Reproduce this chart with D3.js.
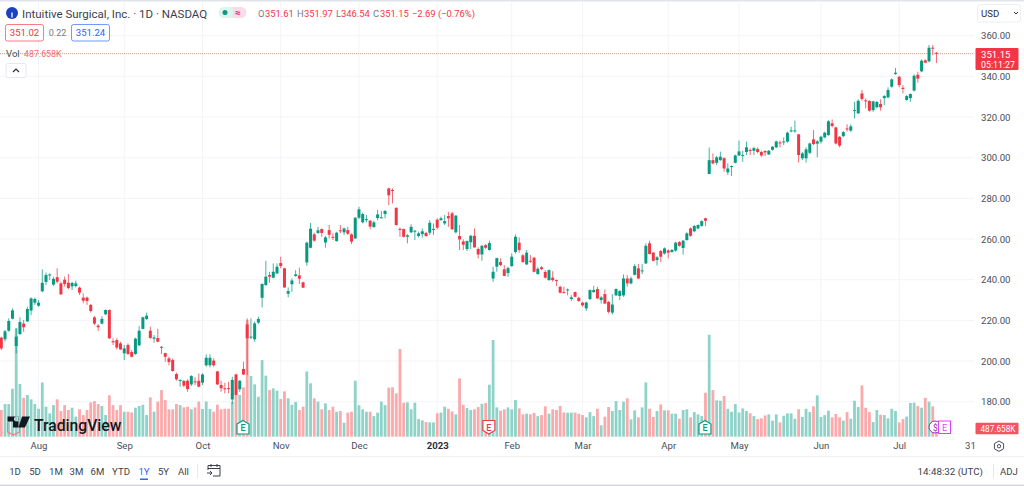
<!DOCTYPE html>
<html>
<head>
<meta charset="utf-8">
<title>ISRG</title>
<script src="https://cdn.jsdelivr.net/npm/d3@7"></script>
<style>
	html, body { margin: 0; padding: 0; background: #fff; overflow: hidden; }
	svg { display: block; font-family: Roboto, sans-serif; }
	.axis text { font-size: 9.6px; fill: #4a4e5a; font-family: Roboto, sans-serif; }
</style>
</head>
<body>
<svg id="chart" width="1024" height="486"></svg>
<script>
const opens = [
	211.5,210.7,214.9,220.8,207.4,213.3,218.4,219.5,224.8,228.7,
	227.2,234.3,238.9,242.2,237.6,241.2,238.2,240,238.5,236.7,
	236.9,236.1,231.2,231.2,227.6,221.5,217.4,218.4,223,225.1,
	209.8,210.3,208.7,203.8,207.9,204.4,203.5,207.7,215.8,220.7,
	214.9,211,211.3,207,203.9,201.3,200.5,193.6,190.3,190.2,
	190.3,188.5,190,190.3,189.4,197.9,197.9,200.2,194.9,188.2,
	186.6,186.7,181.1,193.4,186.1,196.1,218,211.5,210.7,218.9,
	231.1,237.4,242.3,241,243.1,248.2,245.6,233.1,237.8,241.8,
	242.1,238.7,248.5,255.7,262.3,263,264.9,258.3,264.4,261.1,
	259,264.3,263.3,264.4,262.3,260.3,270.5,268.2,269.3,269,
	265.9,270.3,270.5,272.3,284.9,284.1,275.4,265,264.9,261.1,
	263.3,263.9,261.5,262.4,263,263.1,264.7,269.5,269.3,267.7,
	271.3,272.6,263.3,261.5,258.8,255.1,258.4,261.6,255.1,252.4,
	257,254.6,240.6,246.4,248.7,245.1,243.3,246.7,253.6,258.2,
	252,247.5,249.3,250.8,242.8,246.1,243.8,239.8,241,239.8,
	236.5,233.9,234.9,230.5,233.9,231.1,228.7,225.9,230.5,233.9,
	235.4,230,232.9,229,223.8,232.3,232,232.3,240.6,238.2,
	242.4,245.6,244.1,248,257.9,253.3,249.7,254.1,252.9,254.4,
	253.6,254.3,258.5,255.6,259.5,265.2,263.8,265.2,266.5,270.2,
	292,298.8,297.5,298.8,299.8,292.8,295.6,297.5,301.1,301,
	302.8,303.8,303.4,304.3,302.8,303.3,301.6,303.9,305.1,307.5,
	307.5,307.9,312.9,313.1,311.5,299.7,299.7,302.4,309,306.9,
	307.9,310,311.1,316.9,314.9,310.3,310.6,314.4,313.3,323.1,
	321.8,331.6,328.2,327.9,323.4,324.8,326.4,329.3,329.7,334.9,
	341.2,339.8,334.4,328.4,329.3,333,340.8,342.5,347.9,347.4,
	354.1,351.61
];
const highs = [
	212,215.3,221,225.9,216.1,221.5,220.2,226.7,231.3,231.2,
	230,245.1,243.5,243.1,241.5,245.6,239,241.5,242.8,239,
	239.5,236.6,233.3,231.7,228.1,222.1,218.2,222.1,225.4,225.4,
	211.2,211.2,209.5,207.9,208.7,205.4,211.5,217.2,221.8,223.8,
	216.9,212.8,215.9,207.4,204.1,202.1,201.3,194.3,191,190.7,
	191,193.1,192,193.9,193.9,203.3,203.3,201.3,195.1,190.3,
	189.3,189.8,192.3,193.8,190.7,199.7,221,221,219.4,221.8,
	238.2,249.3,243.9,248,248,251.3,245.9,236.2,240.6,244.7,
	245.9,239,258.7,268,263.1,266,265.2,261.5,266.9,262.8,
	263.6,266.9,265.6,266,262.8,270.6,275.9,273,271.8,269.3,
	269,274.3,273.8,274.3,285.2,284.9,275.4,265.7,265.2,262.4,
	267.2,264.4,263.6,265.2,263.6,269.3,267.7,270.2,271,271.8,
	273.4,273.4,271.8,266.9,259.8,259.3,262,265.2,255.9,257,
	257.5,259.2,246.4,250.8,250.5,247.2,246.4,252.9,262.3,260.8,
	252.6,254.6,252.1,251.3,246.1,246.7,244.7,245.1,244.2,240.1,
	237,236.5,235.7,232.4,234.2,231.6,229.2,229.2,235.2,237,
	236.5,232,235.2,229.5,232.9,235.7,234.9,242.6,242.3,241.5,
	247.7,247.7,247.7,257.9,259.2,253.6,251.6,254.6,255.9,254.9,
	255.1,258.7,259,259.5,263.3,265.7,266.9,267.2,269.2,270.5,
	305,302.1,300.8,303,300.2,297.2,296.2,301.5,308.4,303.4,
	307.9,304.6,305.4,305.1,303.4,303.6,303.8,305.7,308.4,308.4,
	310,312.8,315.2,318.2,311.6,302.9,305.1,307.4,313.6,308.7,
	310.8,312.8,318.5,318.8,315.2,310.6,313.1,316.4,316.4,327.5,
	328.7,333.3,329.2,328.2,328,327.9,328.7,330.8,334.6,339,
	344.1,340.3,335.7,330.8,331.6,341,342.3,348.4,348.4,355.4,
	355.4,351.97
];
const lows = [
	205.4,209.5,214.4,220.5,203.8,212.8,214.4,219.2,222.6,227.6,
	226.7,233.8,237.4,239.9,236.9,238.2,232.5,236.6,235.3,234.9,
	236.2,232.5,228.4,227.6,223.9,217.7,214.8,218,222.6,210.8,
	207.9,205.7,205.4,200.5,203,201.8,203,207.4,215.6,220.2,
	211,209,209.2,203.5,199.7,197.9,194.8,190.3,187.4,187.1,
	184.9,187.7,188.2,187.1,188.2,197.2,196.9,197.2,188.2,184.9,
	184.1,184.1,178.9,183.2,184.9,193.1,193.1,210.8,209.5,218.2,
	226.4,236.9,238.5,240.6,242.8,245.6,236,231.3,234.1,241.5,
	237.9,235.9,246.9,255.4,258.7,262.5,261.1,255.7,260.3,259.5,
	258.7,262.8,262,262,257.5,260,269.8,267.7,268.2,264.8,
	265.6,269.3,270.2,270.2,276.7,277.5,266.6,261.1,260.8,257.9,
	262.8,259.5,260.7,260.7,261.1,262,262,264.8,269,266.9,
	266,264.4,262.8,254.6,254.6,254.1,255.1,255.7,250.5,249.3,
	255.1,254.3,239,243.9,246.7,241.8,241.5,246.4,252.9,253.3,
	248.3,247.2,248.3,243.6,242.4,244.7,240.6,239.5,239,236.9,
	233.3,233.3,232.3,229.5,231.3,229.2,226.7,224.7,230,233.6,
	230.5,228.3,228,223.4,222.9,232,230,231.6,236.5,237.7,
	242.1,240.3,242.8,247.7,252.4,249,247,248.7,252.4,250.5,
	253.3,253.8,256.2,252.3,259.2,261.1,263.3,264.8,266,266.4,
	291.8,296.7,296.4,298.5,293.1,291.5,291,297.2,300.8,298,
	301.3,301.3,301.3,302.1,300.5,300.8,301.3,303.4,304.7,305.1,
	306.2,307.4,312.5,312.3,297.7,298.8,297.5,301.8,306.2,300.2,
	307,309.5,310.8,314.9,306.5,305.1,310,312.8,312.8,319.3,
	321.5,328,324.3,322.6,322.6,324.3,323.1,325.9,329.2,334.4,
	340.7,334.6,331.6,328,327.5,332.6,336.9,342,346.4,346.9,
	350.5,346.54
];
const closes = [
	206.2,214.6,219.7,224.9,212,219.2,216.6,225.6,230.8,230.5,
	228.7,238.5,242.3,242.6,240.4,239,232.8,237.9,235.9,238.4,
	238.2,233.6,229.7,229.5,224.6,218.4,216.6,220.7,225.1,211.2,
	209.2,206.6,205.7,206.2,203.5,202.1,211,214.9,221.5,222.3,
	211.3,211.6,209.5,206.6,202.1,199.5,195.1,191,190.7,187.9,
	186.2,192.6,189.5,187.4,193.4,201.6,201.6,197.9,188.5,186.6,
	186.2,186.4,190.7,183.3,190.3,193.4,211.2,212,218.5,220.7,
	237.9,241.5,241.5,243.9,246.4,246.7,236.2,234.4,239.6,242.6,
	240.5,236.1,258.2,265.1,259.2,264.3,263,260.8,262.1,260.6,
	263.1,263.9,265.2,262.6,258.7,270.5,274.6,272.3,269.8,266.1,
	268.2,272.1,270.7,273.8,281.5,283.8,266.9,264.7,261.1,261.8,
	266,264.1,262.8,263.8,261.5,268,265,265.6,270.2,268.8,
	270.2,264.8,271.5,259.8,257.2,259,261.6,255.9,252.4,256.7,
	255.7,258,243.9,250.6,247.2,241.9,245.7,251.3,261.1,254.6,
	248.7,253.3,248.8,243.9,245.4,245.2,241,244.7,239.8,239.5,
	233.6,233.6,235.2,231.3,231.6,229.5,227.4,228.8,234.9,234.9,
	230.8,231.3,228.3,224.2,227.8,235.4,234.4,240.6,238.2,240.6,
	246.7,240.6,244.6,256.7,252.6,249.3,251,251.3,255.4,253.3,
	254.6,258.2,256.7,259.2,262.8,261.6,266.4,266.9,268.8,269,
	298.8,297.2,300.2,300.5,294.7,294.7,295.9,301.1,303.1,301.3,
	305.1,303.4,304.7,302.8,301.1,302.6,303.4,305.4,308,307.2,
	308,312.3,313.4,313.4,301.3,302.1,304.1,307,306.7,308,
	310.3,312.3,317.9,315.6,307,305.9,312.6,313.9,315.4,323.4,
	328,328.9,327.9,323.1,327.7,327.4,324.8,330.3,333.3,338.5,
	341.8,335.7,333.8,330.3,331.3,340.3,338.9,347.7,346.7,354.1,
	353.84,351.15
];
// volumes in thousands of shares
const volumes = [
	1530,1870,1870,2750,6210,3020,2230,2390,2140,1870,
	1600,3110,1720,1340,1810,2140,1470,1810,1530,1660,
	1150,1570,1240,1530,1970,2040,1870,1760,1240,2370,
	1810,1530,1810,1430,1430,1390,1660,1760,1830,1240,
	2250,1430,2010,2670,2100,1570,1570,1870,1810,1680,
	1720,1570,1680,2010,1590,2020,1590,1430,1830,1570,
	1600,1600,1990,2390,2390,2830,6690,3480,3000,2290,
	4390,3500,2670,2770,2640,2160,2600,2200,1830,1990,
	1530,1720,3740,3060,2200,2010,1570,1910,1530,1720,
	1430,1470,800,1380,1430,3210,1800,1570,1430,1430,
	1180,1380,2010,1810,2810,2830,2480,5020,1950,1970,
	1570,1950,1010,940,840,820,820,1340,1380,1720,
	1600,1450,1280,3340,1830,1640,1530,1570,1700,1890,
	1930,2980,5540,1680,1490,1570,1680,1570,2100,1620,
	1280,1320,1280,1360,1180,1240,1740,1320,1570,1530,
	1760,1390,1380,1380,1380,1320,1240,1110,1410,1180,
	1600,650,1150,1700,1470,2040,1530,2010,2200,990,
	1510,1110,1680,3110,1600,1130,1470,1850,1510,1510,
	1320,1320,1030,1530,1570,1110,1410,1280,1180,2520,
	5840,2670,2080,2060,2330,1600,1430,1870,1390,1620,
	1470,1340,1180,1010,1050,1220,1280,920,1280,820,
	1200,1340,1340,1030,1570,1130,1600,1410,1740,2370,
	1130,1240,1490,1110,1300,1110,920,1410,1030,2060,
	1700,2940,1660,1410,840,1530,1260,1240,1050,1600,
	1470,820,1010,1150,1930,1950,1760,1660,2230,2010,
	1740,487.658
];

const priceTicks = [180, 200, 220, 240, 260, 280, 300, 320, 340, 360];
const timeTickBars = [10, 33, 54, 75, 96, 117, 137, 156, 179, 198, 220, 241, 260];
const timeTickLabels = ["Aug", "Sep", "Oct", "Nov", "Dec", "2023", "Feb", "Mar", "Apr", "May", "Jun", "Jul", "31"];
const rangeButtons = ["1D", "5D", "1M", "3M", "6M", "YTD", "1Y", "5Y", "All"];
const rangeCentres = [15, 35, 56, 76.5, 97.5, 121, 144, 163.5, 183.5];
const earningsBars = [65, 131, 189];

const green = "#089981", red = "#f23645", grid = "#f3f4f8", grey = "#787b86", ink = "#4a4e5a";
const chartRight = 974;

const svg = d3.select("#chart");
const x = d3.scaleLinear().domain([0, 260]).range([1.3, 970]);
const y = d3.scaleLinear().domain([180, 360]).range([401.7, 35.7]);
const yVol = d3.scaleLinear().domain([0, 6000]).range([436.7, 332]);

const isUp = i => closes[i] >= opens[i];
const bars = d3.range(closes.length);

// grid
svg.append("g").selectAll("line").data(priceTicks).join("line")
	.attr("x1", 0).attr("x2", chartRight)
	.attr("y1", d => y(d)).attr("y2", d => y(d))
	.attr("stroke", grid);
svg.append("g").selectAll("line").data(timeTickBars.slice(0, -1)).join("line")
	.attr("x1", d => x(d)).attr("x2", d => x(d))
	.attr("y1", 2).attr("y2", 441)
	.attr("stroke", grid);

// frame lines
svg.append("rect").attr("width", 1024).attr("height", 1.5).attr("fill", "#e0e3eb");
svg.append("rect").attr("y", 456).attr("width", 1024).attr("height", 1).attr("fill", "#eef0f4");
svg.append("rect").attr("y", 484.5).attr("width", 1024).attr("height", 1.5).attr("fill", "#d6d8e0");

// volume
svg.append("g").selectAll("rect").data(bars).join("rect")
	.attr("x", i => x(i) - 1.4)
	.attr("width", 2.8)
	.attr("y", i => yVol(volumes[i]))
	.attr("height", i => yVol(0) - yVol(volumes[i]))
	.attr("fill", i => isUp(i) ? "#8fd3c8" : "#fba9ab");

// last price line
svg.append("line")
	.attr("x1", 0).attr("x2", chartRight)
	.attr("y1", y(351.15)).attr("y2", y(351.15))
	.attr("stroke", red).attr("stroke-opacity", 0.55)
	.attr("stroke-dasharray", "1 1");

// candles
const candles = svg.append("g");
candles.selectAll("line").data(bars).join("line")
	.attr("x1", i => x(i)).attr("x2", i => x(i))
	.attr("y1", i => y(highs[i])).attr("y2", i => y(lows[i]))
	.attr("stroke", i => isUp(i) ? green : red)
	.attr("stroke-opacity", 0.75);
candles.selectAll("rect").data(bars).join("rect")
	.attr("x", i => x(i) - 1.5)
	.attr("width", 3)
	.attr("y", i => y(Math.max(opens[i], closes[i])))
	.attr("height", i => Math.max(1, Math.abs(y(opens[i]) - y(closes[i]))))
	.attr("fill", i => isUp(i) ? green : red);

// axes
const priceAxis = d3.axisRight(y).tickValues(priceTicks).tickSize(0).tickPadding(0).tickFormat(d3.format(".2f"));
const gPrice = svg.append("g").attr("class", "axis").attr("transform", "translate(981,0)").call(priceAxis);
gPrice.select(".domain").remove();

const timeAxis = d3.axisBottom(x).tickValues(timeTickBars).tickSize(0).tickPadding(0)
	.tickFormat((d, i) => timeTickLabels[i]);
const gTime = svg.append("g").attr("class", "axis").attr("transform", "translate(0,442.5)").call(timeAxis);
gTime.select(".domain").remove();
gTime.selectAll("text").filter(d => d === 117).style("font-weight", 700).style("fill", "#2a2e39");

// helpers for the toolbar text
function label(txt, px, py, color, opts = {}) {
	return svg.append("text").text(txt)
		.attr("x", px).attr("y", py)
		.attr("fill", color)
		.attr("text-anchor", opts.anchor || "start")
		.attr("font-size", opts.size || 9.6)
		.attr("font-weight", opts.weight || 400);
}

// header
svg.append("circle").attr("cx", 12).attr("cy", 13).attr("r", 6).attr("fill", "#1c3fc4");
svg.append("path").attr("d", "M12 10.2v0.1M12 12.5v5").attr("stroke", "#fff").attr("stroke-width", 1.3);
label("Intuitive Surgical, Inc. · 1D · NASDAQ", 22, 17.5, "#3b3f4c", { size: 11.5 });

svg.append("path").attr("d", "M224 7h9v11h-9a5.5 5.5 0 0 1 0-11z").attr("fill", "#dff3ef");
svg.append("path").attr("d", "M233 7h8a5.5 5.5 0 0 1 0 11h-8z").attr("fill", "#fbdbe6");
svg.append("circle").attr("cx", 225).attr("cy", 12.5).attr("r", 2.5).attr("fill", green);
label("≈", 238, 15.5, "#d81b72", { size: 10, anchor: "middle", weight: 700 });

const legendLetters = ["O", "H", "L", "C"];
const legendValues = ["351.61", "351.97", "346.54", "351.15"];
const legendLetterX = [258, 297, 336, 373];
const legendValueX = [265, 304, 341, 380];
legendLetters.forEach((d, i) => {
	label(d, legendLetterX[i], 17, grey, { size: 9.4 });
	label(legendValues[i], legendValueX[i], 17, red, { size: 9.4 });
});
label("−2.69 (−0.76%)", 412, 17, red, { size: 9.4 });

function valueBox(bx, txt, color) {
	svg.append("rect").attr("x", bx).attr("y", 24.5).attr("width", 38).attr("height", 16.5)
		.attr("rx", 2).attr("fill", "#fff").attr("stroke", color).attr("stroke-opacity", 0.65);
	label(txt, bx + 19, 36.3, color, { anchor: "middle" });
}
valueBox(5.5, "351.02", red);
label("0.22", 57.5, 36.3, grey, { anchor: "middle", size: 9 });
valueBox(71.5, "351.24", "#2962ff");

label("Vol", 6, 56.5, ink);
label("487.658K", 24, 56.5, "#f7696f", { size: 8.8 });
svg.append("rect").attr("x", 6).attr("y", 63.5).attr("width", 20).attr("height", 14)
	.attr("rx", 2).attr("fill", "#fff").attr("stroke", "#e6e8ee");
svg.append("path").attr("d", "M13 72l3-3 3 3").attr("fill", "none").attr("stroke", "#2a2e39").attr("stroke-width", 1.2);

// currency button and price labels
svg.append("rect").attr("x", 977.5).attr("y", 4.5).attr("width", 43).attr("height", 17.5)
	.attr("rx", 3).attr("fill", "#fff").attr("stroke", "#eceef2");
label("USD", 981, 16.5, "#2a2e39");
svg.append("path").attr("d", "M1014 12l2 2 2-2").attr("fill", "none").attr("stroke", "#2a2e39");

svg.append("rect").attr("x", 975.5).attr("y", 48).attr("width", 43).attr("height", 22).attr("rx", 1).attr("fill", red);
label("351.15", 981, 57.5, "#fff");
label("05:11:27", 981, 67.5, "#fff", { size: 8.8 });
svg.append("rect").attr("x", 975.5).attr("y", 422.7).attr("width", 43).attr("height", 11.5).attr("rx", 1).attr("fill", "#f7525f");
label("487.658K", 980.5, 432, "#fff", { size: 8.2 });

// watermark
svg.append("path").attr("d", "M7.5 422v10l6 3 6-3v-10").attr("fill", "none").attr("stroke", "#f47c85").attr("stroke-width", 1.2);
svg.append("path").attr("d", "M7.5 416.5h11v11h-5.5v-6h-5.5zM22 416.5h8l-5 11h-6.5zM16.5 416.5a2.5 2.5 0 1 0 0.01 0").attr("fill", "#131722");
label("TradingView", 34, 430.5, "#131722", { size: 15.7, weight: 500 });

// earnings badges
function earningsBadge(cx, color, down) {
	const d = down
		? `M${cx - 6} 420.5h12v10l-6 3.5-6-3.5z`
		: `M${cx - 6} 424l6-3.5 6 3.5v10h-12z`;
	svg.append("path").attr("d", d).attr("fill", "#fff").attr("stroke", color).attr("stroke-width", 1.2);
	label("E", cx, 431, color, { anchor: "middle", size: 9, weight: 500 });
}
earningsBars.forEach((b, i) => earningsBadge(x(b) - 0.5, i === 1 ? red : green, i === 1));

// dividend and next earnings, right end
svg.append("circle").attr("cx", 935).attr("cy", 427).attr("r", 6).attr("fill", "#fff").attr("stroke", "#9c27b0");
label("$", 935.5, 431, "#9c27b0", { anchor: "middle", size: 8.5 });
svg.append("rect").attr("x", 938.5).attr("y", 421).attr("width", 12).attr("height", 12.5).attr("fill", "#fff").attr("stroke", "#e040fb");
label("E", 944.5, 431, "#e040fb", { anchor: "middle", size: 9 });

// settings gear
svg.append("path").attr("d", "M999 441l4.6 2.6v5.2l-4.6 2.6-4.6-2.6v-5.2z").attr("fill", "none").attr("stroke", "#4a4e5a");
svg.append("circle").attr("cx", 999).attr("cy", 446.2).attr("r", 1.7).attr("fill", "none").attr("stroke", "#4a4e5a");

// bottom toolbar
rangeButtons.forEach((d, i) => {
	label(d, rangeCentres[i], 474.5, d === "1Y" ? "#2962ff" : "#3b3f4c", { anchor: "middle", size: 9.6 });
});
svg.append("rect").attr("x", 140).attr("y", 478.5).attr("width", 8).attr("height", 1.5).attr("fill", "#2962ff");
svg.append("rect").attr("x", 197).attr("y", 464).attr("width", 1).attr("height", 14).attr("fill", "#e6e8ee");
svg.append("path").attr("d", "M208 470v-4.5h12v10.5h-7M208 468.5h12M211 464v3M217 464v3M207 473h5M210 471l2 2-2 2")
	.attr("fill", "none").attr("stroke", "#3b3f4c");
label("14:48:32 (UTC)", 917.5, 474.5, "#3b3f4c", { size: 9.8 });
svg.append("rect").attr("x", 993).attr("y", 464).attr("width", 1).attr("height", 14).attr("fill", "#e6e8ee");
label("ADJ", 1000, 474.5, "#3b3f4c", { size: 9.6 });
</script>
</body>
</html>
